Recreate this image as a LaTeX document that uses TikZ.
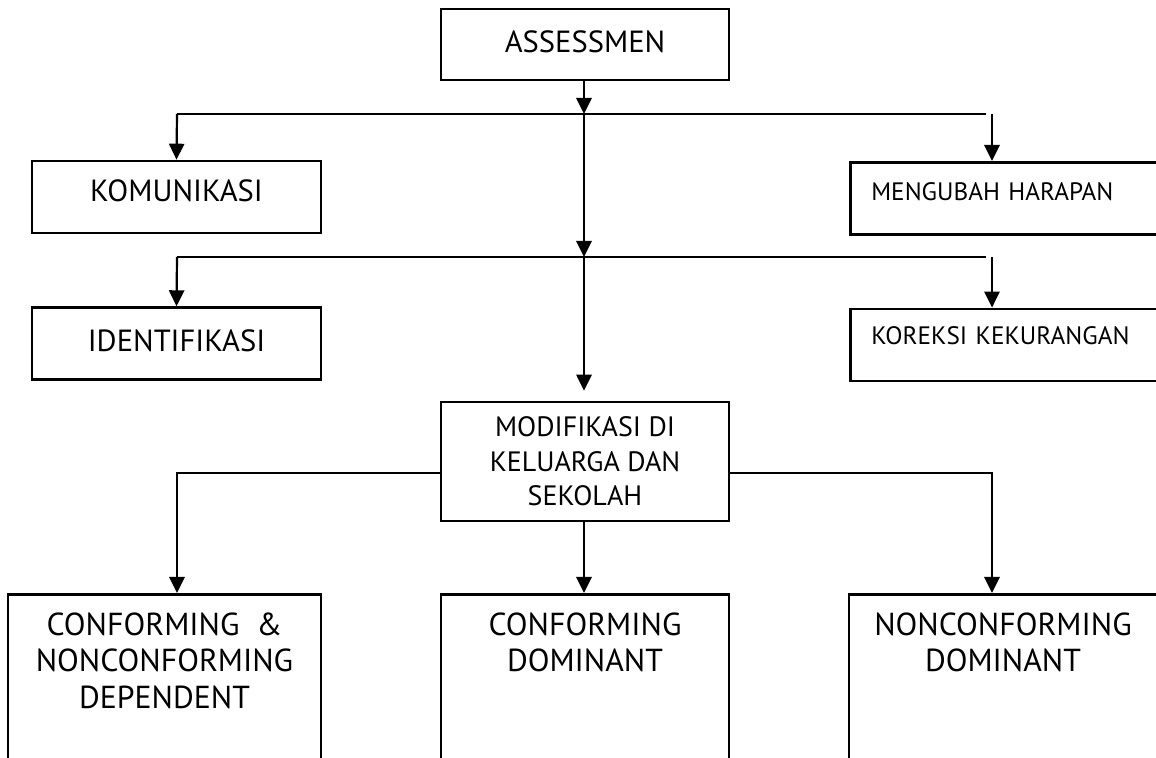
\documentclass[tikz,border=0pt]{standalone}
\usepackage{fontspec}
\setmainfont{PT Sans}
\usetikzlibrary{positioning,arrows.meta}

\tikzset{
  box/.style = {draw, line width=1.3pt, inner sep=0pt},
  bigtext/.style = {font=\fontsize{15.3}{18}\selectfont},
  lowtext/.style = {font=\fontsize{15.9}{18.2}\selectfont},
  smalltext/.style = {font=\fontsize{12.6}{14}\selectfont},
  sidebox/.style = {box, smalltext, anchor=north west, text width=139pt,
                    inner xsep=10.5pt, align=left, text height=8.7pt},
  link/.style = {line width=1.1pt},
  arr/.style = {link, -{Triangle[length=8pt,width=7.6pt]}},
}
\newcommand{\toptext}[2]{\parbox[t][66pt][t]{#1}{\centering #2}}

\begin{document}
\begin{tikzpicture}[x=0.5pt, y=-0.5pt]
  \useasboundingbox (0,0) rectangle (1156,758);
  \clip (0,0) rectangle (1156,758);

  % top
  \node[box, bigtext, minimum width=144pt, minimum height=35.5pt,
        text depth=2.5pt] (ass) at (585,44.5) {ASSESSMEN};

  \coordinate (j1) at (584,114);
  \coordinate (l1) at (177,114);
  \coordinate (r1) at (986,114);
  \coordinate (r1a) at (992,114);

  % first row
  \node[box, bigtext, minimum width=144.5pt, minimum height=36pt,
        text depth=6pt] (kom) at (176.5,197) {KOMUNIKASI};
  \node[sidebox, inner ysep=10.2pt, text depth=6.9pt] (mng) at (849,161)
        {MENGUBAH HARAPAN};

  \coordinate (j2) at (584,257);
  \coordinate (l2) at (177,257);
  \coordinate (r2) at (986,257);
  \coordinate (r2a) at (992,257);

  % second row
  \node[box, bigtext, minimum width=144.5pt, minimum height=36pt,
        text depth=3pt, below=36pt of kom] (idn) {IDENTIFIKASI};
  \node[sidebox, inner ysep=9pt, text depth=9.3pt,
        below=36pt of mng.south west, anchor=north west] (kor)
        {KOREKSI KEKURANGAN};

  % middle
  \node[box, minimum width=144pt, minimum height=59.5pt, align=center,
        font=\fontsize{14}{17.3}\selectfont] (mod) at (585,461.5)
        {MODIFIKASI DI\\KELUARGA DAN\\SEKOLAH};

  % bottom row
  \node[box, lowtext, anchor=north, inner ysep=9.3pt] (cnd) at (164.5,593)
        {\toptext{156.5pt}{CONFORMING~~\&\\NONCONFORMING\\DEPENDENT}};
  \node[box, lowtext, anchor=north, inner ysep=9.3pt] (cdm) at (585,593)
        {\toptext{144pt}{CONFORMING\\DOMINANT}};
  \node[box, lowtext, anchor=north, inner ysep=9.3pt] (ncd) at (1003,593)
        {\toptext{154pt}{NONCONFORMING\\DOMINANT}};

  % connectors
  \draw[arr] (ass.south -| j1) -- (j1);
  \draw[link] (l1) -- (r1);
  \draw[arr] (l1) -- (kom.north);
  \draw[arr] (r1a) -- (r1a |- mng.north);
  \draw[arr] (j1) -- (j2);
  \draw[link] (l2) -- (r2);
  \draw[arr] (l2) -- (idn.north);
  \draw[arr] (r2a) -- (r2a |- kor.north);
  \draw[arr, shorten >=5pt] (j2) -- (mod.north -| j2);
  \draw[arr] (mod.south -| j2) -- (cdm.north -| j2);
  \draw[arr] ([yshift=-5.75pt]mod.west) -| ([xshift=6.25pt]cnd.north);
  \draw[arr] ([yshift=-5.75pt]mod.east) -| ([xshift=-5.5pt]ncd.north);
\end{tikzpicture}
\end{document}
